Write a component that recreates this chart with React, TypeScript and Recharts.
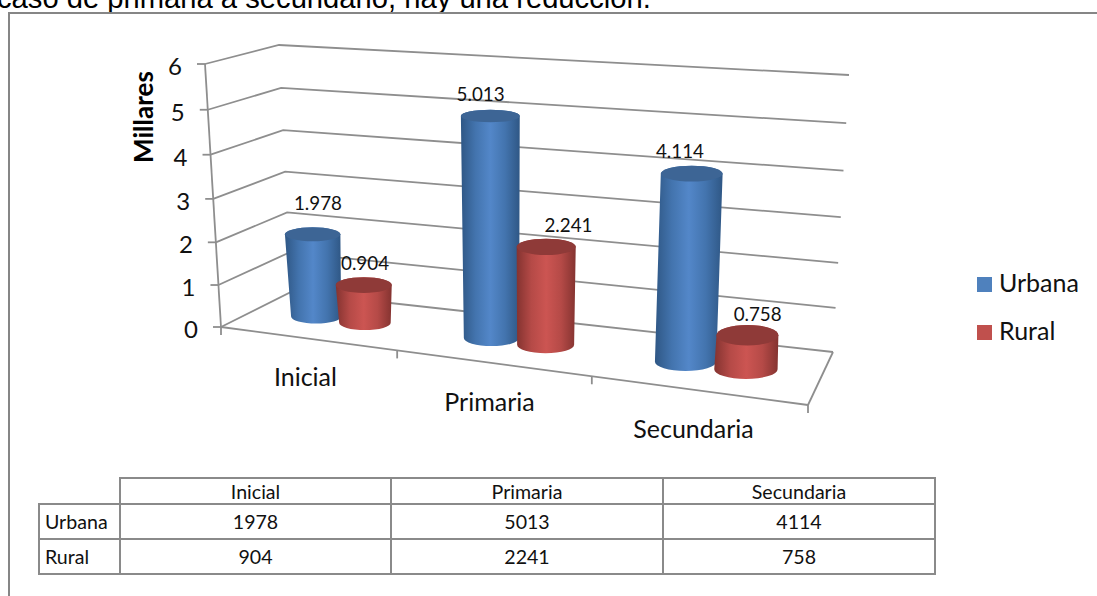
import React from 'react';
import { ComposedChart, Bar, XAxis, YAxis, CartesianGrid, LabelList } from 'recharts';

const categories = ['Inicial', 'Primaria', 'Secundaria'];
const urbana = [1978, 5013, 4114];
const rural = [904, 2241, 758];
const valueTicks = [0, 1, 2, 3, 4, 5, 6];
const seriesNames = ['Urbana', 'Rural'];
const chartTitle = 'Millares';
const bodyLine = 'caso de primaria a secundario, hay una reducción.';

const data = categories.map((name, i) => ({ name, urbana: urbana[i] / 1000, rural: rural[i] / 1000 }));

// flat plot box handed to Recharts; every mark is then projected to the 3D view
const PL = 100, PT = 100, PW = 600, PH = 300, VMAX = 6;
const AXW = 60;
type Pt = [number, number];
const floor: Pt[] = [[221, 327], [808, 405], [833, 352], [291, 292]]; // FL FR BR BL
const ceil: Pt[] = [[205, 64], [825, 109], [849, 75], [279, 45]];
const KU = 1.166, KV = 1.053;
const warp = (a: number, k: number) => (a <= 0 ? 0 : a >= 1 ? 1 : a / (a + k * (1 - a)));
const mix = (a: Pt, b: Pt, s: number): Pt => [a[0] + (b[0] - a[0]) * s, a[1] + (b[1] - a[1]) * s];
const onPlane = (q: Pt[], t: number, w: number) => mix(mix(q[0], q[1], t), mix(q[3], q[2], t), w);
const project = (u: number, w: number, v: number): Pt => {
  const t = warp(u, KU);
  return mix(onPlane(floor, t, w), onPlane(ceil, t, w), warp(v / VMAX, KV));
};
const uOf = (x: number) => (x - PL) / PW;
const vOf = (y: number) => ((PT + PH - y) / PH) * VMAX;

const GRID = '#8e8e8e';
const TXT = '#111';
const FONT = 'Lato, Carlito, sans-serif';
const DEPTH = 0.19;
const LW = 1.8;

const seg = (a: Pt, b: Pt, k?: string) => (
  <line key={k} x1={a[0]} y1={a[1]} x2={b[0]} y2={b[1]} stroke={GRID} strokeWidth={LW} />
);

const renderGrid = (p: any) => {
  const v = vOf(p.y1);
  const front = project(0, 0, v);
  const back = project(0, 1, v);
  const right = project(1, 1, v);
  const isBase = Math.abs(v) < 1e-6;
  return (
    <g key={p.key}>
      <polyline points={[front, back, right].map((q) => q.join(',')).join(' ')} fill="none" stroke={GRID} strokeWidth={LW} />
      {seg([front[0] - 8, front[1]], front)}
      {isBase && seg(project(0, 0, 0), project(0, 0, VMAX))}
      {isBase && seg(project(0, 0, 0), project(1, 0, 0))}
      {isBase && seg(project(1, 0, 0), project(1, 1, 0))}
      {isBase && [0, 1, 2, 3].map((i) => {
        const q = project(i / 3, 0, 0);
        return seg(q, [q[0], q[1] + 8], `t${i}`);
      })}
    </g>
  );
};

const renderValueTick = (p: any) => {
  const v = Number(p.payload.value);
  const q = project(0, 0, v);
  return (
    <text x={q[0] - 30} y={q[1] + 11} textAnchor="middle" fontFamily={FONT} fontSize={24} fill={TXT}>
      {p.payload.value}
    </text>
  );
};

const renderCategoryTick = (p: any) => {
  const q = project(uOf(p.x), 0, 0);
  return (
    <text x={q[0] - 1 - 3 * uOf(p.x)} y={q[1] + 48} textAnchor="middle" fontFamily={FONT} fontSize={25} fill={TXT}>
      {p.payload.value}
    </text>
  );
};

const cylinder = (id: string, stops: string[], topFill: string, dx: number) => (p: any) => {
  const uL = uOf(p.x), uR = uOf(p.x + p.width), uC = (uL + uR) / 2;
  const vT = vOf(p.y);
  const pTL = project(uL, 0.5, vT), pTR = project(uR, 0.5, vT);
  const pBL = project(uL, 0.5, 0), pBR = project(uR, 0.5, 0);
  const ryOf = (v: number) => Math.abs(project(uC, 0.5 - DEPTH, v)[1] - project(uC, 0.5 + DEPTH, v)[1]) / 2;
  const ryT = ryOf(vT) + 1, ryB = ryOf(0);
  // the source's cylinders keep a level rim and vary less in width than the floor does
  const rxT = ((pTR[0] - pTL[0]) / 2 + 30) / 2;
  const rxB = (pBR[0] - pBL[0]) / 2;
  const cxT = (pTL[0] + pTR[0]) / 2 + dx, cyT = (pTL[1] + pTR[1]) / 2;
  const cxB = (pBL[0] + pBR[0]) / 2 + dx, cyB = (pBL[1] + pBR[1]) / 2;
  const gid = `${id}-${p.index}`;
  return (
    <g>
      <defs>
        <linearGradient id={gid} x1="0" y1="0" x2="1" y2="0">
          {stops.map((c, i) => <stop key={i} offset={i / (stops.length - 1)} stopColor={c} />)}
        </linearGradient>
      </defs>
      <path
        d={`M${cxT - rxT},${cyT} L${cxB - rxB},${cyB} A${rxB},${ryB} 0 0 0 ${cxB + rxB},${cyB} L${cxT + rxT},${cyT} A${rxT},${ryT} 0 0 0 ${cxT - rxT},${cyT} Z`}
        fill={`url(#${gid})`}
      />
      <ellipse cx={cxT} cy={cyT} rx={rxT} ry={ryT} fill={topFill} />
    </g>
  );
};

const blueStops = ['#2f5785', '#4374ae', '#5387c9', '#4374ae', '#2f5785'];
const redStops = ['#843330', '#b54a47', '#cc5552', '#b54a47', '#843330'];

// hand-placed data labels in the reference: nudge from the bar's top centre
const urbanaNudge: Pt[] = [[8, -30], [-7, -21], [-9, -22]];
const ruralNudge: Pt[] = [[2, -21], [23, -21], [11, -20]];

const valueLabel = (nudge: Pt[]) => (p: any) => {
  const q = project(uOf(p.x + p.width / 2), 0.5, vOf(p.y));
  const n = nudge[p.index];
  return (
    <text x={q[0] + n[0]} y={q[1] + n[1] + 6} textAnchor="middle" fontFamily={FONT} fontSize={18.8} fill={TXT}>
      {Number(p.value).toFixed(3)}
    </text>
  );
};

const renderAxisTitle = () => (
  <text x={0} y={0} transform="translate(153,117) rotate(-90)" textAnchor="middle" fontFamily={FONT} fontWeight={700} fontSize={26} fill="#000">
    {chartTitle}
  </text>
);

const colX = [39, 120, 391, 663, 935];
const rowY = [478, 504, 539, 574];
const BW = 2;
const BORDER = `${BW}px solid #8a8a8a`;

const cell = (key: string, x0: number, x1: number, y0: number, y1: number, text: string, left?: boolean) => (
  <div
    key={key}
    style={{
      position: 'absolute', left: x0 - BW / 2, top: y0 - BW / 2, width: x1 - x0 + BW, height: y1 - y0 + BW, boxSizing: 'border-box',
      border: BORDER, display: 'flex', alignItems: 'center', justifyContent: left ? 'flex-start' : 'center',
      paddingLeft: left ? 5 : 0, fontFamily: FONT, fontSize: 19.6, color: TXT, whiteSpace: 'nowrap',
    }}
  >
    {text}
  </div>
);

const legendColors = ['#4f81bd', '#c0504d'];

export default function App() {
  return (
    <div style={{ position: 'absolute', left: 0, top: 0, width: 1097, height: 596, overflow: 'hidden', background: '#fff' }}>
      <div style={{ position: 'absolute', left: -3, top: -20, fontFamily: '"Liberation Sans", Arial, sans-serif', fontSize: 29.2, lineHeight: '36px', color: '#000', whiteSpace: 'nowrap' }}>
        {bodyLine}
      </div>
      <div style={{ position: 'absolute', left: 8, top: 12, width: 1089, height: 584, boxSizing: 'border-box', borderTop: '2px solid #868686', borderLeft: '2px solid #868686' }} />

      <div style={{ position: 'absolute', left: 0, top: 0 }}>
        <ComposedChart
          width={1097}
          height={596}
          data={data}
          margin={{ left: PL - AXW, top: PT, right: 1097 - PL - PW, bottom: 596 - PT - PH - AXW }}
          barCategoryGap="20%"
          barGap={0}
        >
          <CartesianGrid horizontal={renderGrid} vertical={false} />
          <XAxis dataKey="name" height={AXW} axisLine={false} tickLine={false} interval={0} tick={renderCategoryTick} />
          <YAxis
            width={AXW}
            domain={[0, VMAX]}
            ticks={valueTicks}
            interval={0}
            axisLine={false}
            tickLine={false}
            tick={renderValueTick}
            label={{ content: renderAxisTitle }}
          />
          <Bar dataKey="urbana" isAnimationActive={false} shape={cylinder('u', blueStops, '#3d6595', 2.5)}>
            <LabelList dataKey="urbana" content={valueLabel(urbanaNudge)} />
          </Bar>
          <Bar dataKey="rural" isAnimationActive={false} shape={cylinder('r', redStops, '#8f3a38', 0.5)}>
            <LabelList dataKey="rural" content={valueLabel(ruralNudge)} />
          </Bar>
        </ComposedChart>
      </div>

      {seriesNames.map((s, i) => (
        <React.Fragment key={s}>
          <div style={{ position: 'absolute', left: 977, top: 277 + i * 48, width: 15, height: 15, background: legendColors[i] }} />
          <div style={{ position: 'absolute', left: 999, top: 266 + i * 48, fontFamily: FONT, fontSize: 25, lineHeight: '32px', color: TXT }}>{s}</div>
        </React.Fragment>
      ))}

      {categories.map((c, i) => cell(`h${i}`, colX[i + 1], colX[i + 2], rowY[0], rowY[1], c))}
      {cell('lu', colX[0], colX[1], rowY[1], rowY[2], seriesNames[0], true)}
      {cell('lr', colX[0], colX[1], rowY[2], rowY[3], seriesNames[1], true)}
      {urbana.map((v, i) => cell(`u${i}`, colX[i + 1], colX[i + 2], rowY[1], rowY[2], String(v)))}
      {rural.map((v, i) => cell(`r${i}`, colX[i + 1], colX[i + 2], rowY[2], rowY[3], String(v)))}
    </div>
  );
}
